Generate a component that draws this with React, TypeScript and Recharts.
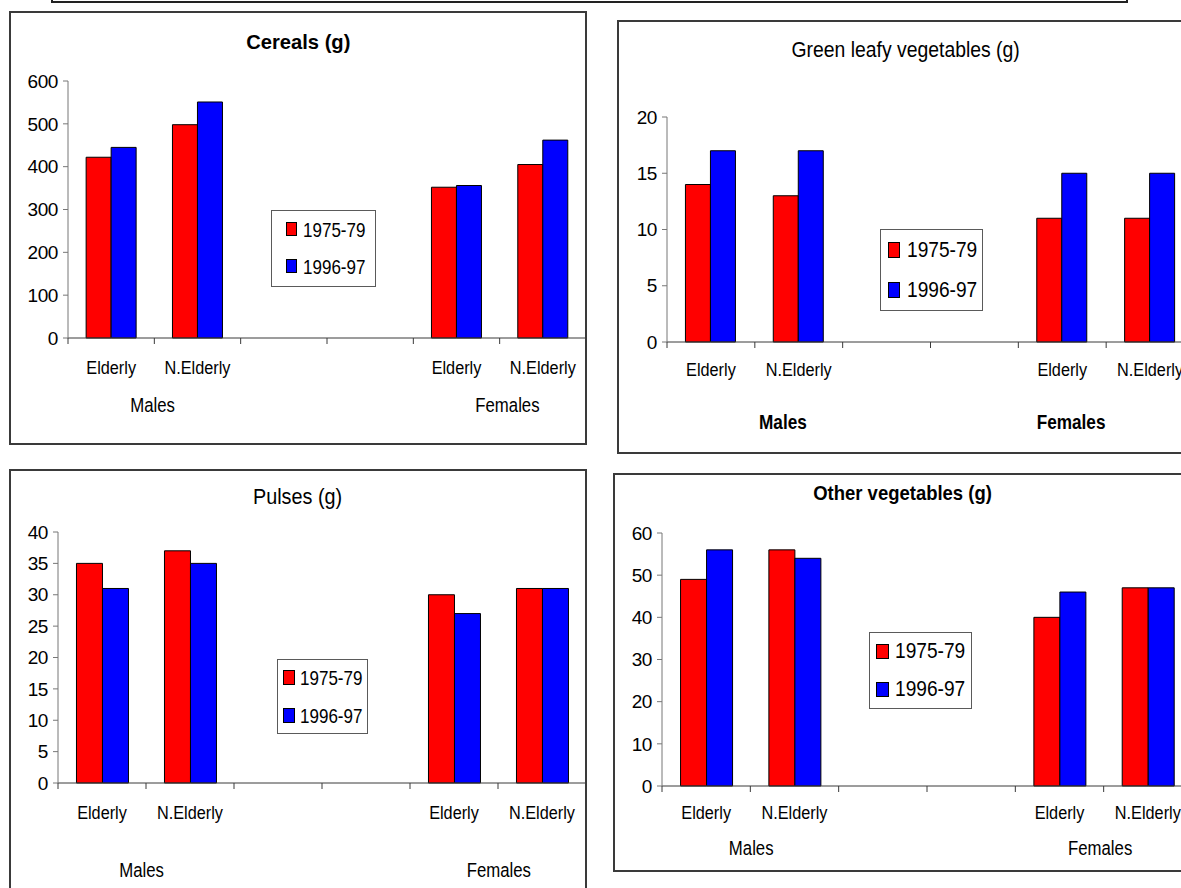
import { Bar, BarChart, Legend, XAxis, YAxis } from "recharts";

const FONT = '"Liberation Sans", Arial, Helvetica, sans-serif';
const RED = "#FF0000";
const BLUE = "#0000FF";
const LINE = "#3a3a3a";

// shared categories (two empty slots between the groups)
const categories = ["Elderly", "N.Elderly", "", "", "Elderly", "N.Elderly"];
const groups = ["Males", "", "", "", "Females", ""];
const seriesNames = ["1975-79", "1996-97"];

const cereals1975 = [422, 498, null, null, 352, 405];
const cereals1996 = [445, 551, null, null, 356, 462];
const cerealTicks = [0, 100, 200, 300, 400, 500, 600];

const leafy1975 = [14, 13, null, null, 11, 11];
const leafy1996 = [17, 17, null, null, 15, 15];
const leafyTicks = [0, 5, 10, 15, 20];

const pulses1975 = [35, 37, null, null, 30, 31];
const pulses1996 = [31, 35, null, null, 27, 31];
const pulseTicks = [0, 5, 10, 15, 20, 25, 30, 35, 40];

const otherVeg1975 = [49, 56, null, null, 40, 47];
const otherVeg1996 = [56, 54, null, null, 46, 47];
const otherVegTicks = [0, 10, 20, 30, 40, 50, 60];

type LegendBox = {
  x: number; y: number; w: number; h: number;
  sqX: number; sqW: number; sqH: number; textX: number;
  rows: number[]; fontSize: number; squeeze: number;
};

type Panel = {
  title: string;
  titleBold: boolean;
  titleSize: number;
  titleSqueeze: number;
  titleY: number;
  left: number; top: number; width: number; height: number;
  margin: { top: number; right: number; bottom: number; left: number };
  yWidth: number;
  xHeight: number;
  ticks: number[];
  a: (number | null)[];
  b: (number | null)[];
  labelDy: number;
  groupDy: number;
  groupBold: boolean;
  groupShift: number[];
  legend: LegendBox;
};

const panels: Panel[] = [
  {
    title: "Cereals (g)", titleBold: true, titleSize: 21, titleSqueeze: 0.96, titleY: 31,
    left: 9, top: 11, width: 578, height: 434,
    margin: { top: 70, right: 1, bottom: 7, left: 9 }, yWidth: 50, xHeight: 100,
    ticks: cerealTicks, a: cereals1975, b: cereals1996,
    labelDy: 30, groupDy: 68, groupBold: false, groupShift: [0.48, 0.59],
    legend: { x: 262, y: 199, w: 105, h: 77, sqX: 15, sqW: 11, sqH: 14, textX: 32, rows: [18, 55], fontSize: 21, squeeze: 0.81 },
  },
  {
    title: "Green leafy vegetables (g)", titleBold: false, titleSize: 22, titleSqueeze: 0.88, titleY: 30,
    left: 617, top: 20, width: 578, height: 434,
    margin: { top: 97, right: 1, bottom: 7, left: 0 }, yWidth: 50, xHeight: 105,
    ticks: leafyTicks, a: leafy1975, b: leafy1996,
    labelDy: 28, groupDy: 80, groupBold: true, groupShift: [0.82, 0.1],
    legend: { x: 263, y: 209, w: 103, h: 82, sqX: 8, sqW: 12, sqH: 16, textX: 27, rows: [20, 60], fontSize: 22.5, squeeze: 0.85 },
  },
  {
    title: "Pulses (g)", titleBold: false, titleSize: 22, titleSqueeze: 0.9, titleY: 28,
    left: 9, top: 469, width: 578, height: 440,
    margin: { top: 63, right: 1, bottom: 8, left: 0 }, yWidth: 49, xHeight: 118,
    ticks: pulseTicks, a: pulses1975, b: pulses1996,
    labelDy: 30, groupDy: 88, groupBold: false, groupShift: [0.45, 0.51],
    legend: { x: 268, y: 190, w: 91, h: 75, sqX: 6, sqW: 12, sqH: 15, textX: 23, rows: [17.7, 55.7], fontSize: 21, squeeze: 0.81 },
  },
  {
    title: "Other vegetables (g)", titleBold: true, titleSize: 21, titleSqueeze: 0.88, titleY: 20,
    left: 613, top: 473, width: 580, height: 399,
    margin: { top: 60, right: 1, bottom: 6, left: 0 }, yWidth: 49, xHeight: 80,
    ticks: otherVegTicks, a: otherVeg1975, b: otherVeg1996,
    labelDy: 27, groupDy: 63, groupBold: false, groupShift: [0.51, 0.46],
    legend: { x: 256, y: 159, w: 103, h: 77, sqX: 7, sqW: 13, sqH: 15, textX: 26, rows: [18.7, 56.3], fontSize: 22.5, squeeze: 0.85 },
  },
];

// condensed text, like the narrow rendering of the original sheet
function Squeezed({ x, y, s, children, ...rest }: any) {
  return (
    <text
      transform={`translate(${x} ${y}) scale(${s} 1)`}
      x={0}
      y={0}
      textAnchor="middle"
      dominantBaseline="central"
      fontFamily={FONT}
      fill="#000"
      {...rest}
    >
      {children}
    </text>
  );
}

function CategoryTick(props: any) {
  const { x, y, payload, panel, band } = props;
  const i = props.index ?? payload.index ?? 0;
  const half = payload.offset ?? band / 2;
  const p: Panel = panel;
  return (
    <g>
      <line x1={x - half} x2={x - half} y1={y} y2={y + 6} stroke={LINE} />
      {i === categories.length - 1 && (
        <line x1={x + half} x2={x + half} y1={y} y2={y + 6} stroke={LINE} />
      )}
      <Squeezed x={x} y={y + p.labelDy} s={0.88} fontSize={18.5}>
        {categories[i]}
      </Squeezed>
      {groups[i] && (
        <Squeezed
          x={x + p.groupShift[i === 0 ? 0 : 1] * half * 2}
          y={y + p.groupDy}
          s={p.groupBold ? 0.86 : 0.86}
          fontSize={p.groupBold ? 20 : 19.5}
          fontWeight={p.groupBold ? "bold" : "normal"}
        >
          {groups[i]}
        </Squeezed>
      )}
    </g>
  );
}

function LegendBoxView({ payload, lg }: any) {
  return (
    <div
      style={{
        position: "relative",
        width: lg.w,
        height: lg.h,
        boxSizing: "border-box",
        border: "1.5px solid #5a5a5a",
        background: "#fff",
        fontFamily: FONT,
        color: "#000",
      }}
    >
      {(payload || []).map((p: any, i: number) => (
        <div
          key={i}
          style={{
            position: "absolute",
            left: 0,
            top: lg.rows[i] - 15,
            height: 30,
            display: "flex",
            alignItems: "center",
          }}
        >
          <span
            style={{
              marginLeft: lg.sqX - 1.5,
              width: lg.sqW,
              height: lg.sqH,
              background: p.color,
              border: "1.5px solid #000",
              boxSizing: "border-box",
              flex: "none",
            }}
          />
          <span
            style={{
              marginLeft: lg.textX - lg.sqX - lg.sqW + 0.5,
              fontSize: lg.fontSize,
              lineHeight: 1,
              whiteSpace: "nowrap",
              display: "inline-block",
              transform: `scaleX(${lg.squeeze})`,
              transformOrigin: "left center",
            }}
          >
            {p.value}
          </span>
        </div>
      ))}
    </div>
  );
}

function PanelChart({ panel }: { panel: Panel }) {
  const data = categories.map((cat, i) => ({ cat, a: panel.a[i], b: panel.b[i] }));
  const plotWidth = panel.width - panel.margin.left - panel.margin.right - panel.yWidth;
  const band = plotWidth / categories.length;
  const max = panel.ticks[panel.ticks.length - 1];
  const lg = panel.legend;
  return (
    <div
      style={{
        position: "absolute",
        left: panel.left,
        top: panel.top,
        width: panel.width,
        height: panel.height,
        background: "#fff",
      }}
    >
      <BarChart
        width={panel.width}
        height={panel.height}
        data={data}
        margin={panel.margin}
        barGap={0}
        barCategoryGap="21%"
        style={{ position: "absolute", left: 0, top: 0 }}
      >
        <XAxis
          dataKey="cat"
          height={panel.xHeight}
          interval={0}
          tickLine={false}
          tickSize={0}
          tickMargin={0}
          axisLine={{ stroke: LINE }}
          tick={<CategoryTick panel={panel} band={band} />}
        />
        <YAxis
          width={panel.yWidth}
          domain={[0, max]}
          ticks={panel.ticks}
          interval={0}
          tickSize={5}
          tickMargin={5}
          axisLine={{ stroke: "#777" }}
          tickLine={{ stroke: "#777" }}
          tick={{ fontSize: 19, fill: "#000", fontFamily: FONT, letterSpacing: -0.4 }}
        />
        <Bar dataKey="a" name={seriesNames[0]} fill={RED} stroke="#000" strokeWidth={1} isAnimationActive={false} />
        <Bar dataKey="b" name={seriesNames[1]} fill={BLUE} stroke="#000" strokeWidth={1} isAnimationActive={false} />
        <Legend
          layout="vertical"
          align="center"
          verticalAlign="middle"
          wrapperStyle={{ left: lg.x, top: lg.y, width: lg.w, height: lg.h }}
          content={(props: any) => <LegendBoxView payload={props.payload} lg={lg} />}
        />
      </BarChart>
      <div
        style={{
          position: "absolute",
          left: 0,
          width: panel.width,
          top: panel.titleY,
          transform: "translateY(-50%)",
          textAlign: "center",
          fontFamily: FONT,
          fontSize: panel.titleSize,
          fontWeight: panel.titleBold ? "bold" : "normal",
          lineHeight: 1.2,
          color: "#000",
          whiteSpace: "nowrap",
        }}
      >
        <span style={{ display: "inline-block", transform: `scaleX(${panel.titleSqueeze})` }}>
          {panel.title}
        </span>
      </div>
      <div
        style={{
          position: "absolute",
          inset: 0,
          border: `2px solid ${LINE}`,
          boxSizing: "border-box",
          pointerEvents: "none",
        }}
      />
    </div>
  );
}

export default function App() {
  return (
    <div
      style={{
        position: "absolute",
        left: 0,
        top: 0,
        width: 1181,
        height: 888,
        overflow: "hidden",
        background: "#fff",
        fontFamily: FONT,
      }}
    >
      <div
        style={{
          position: "absolute",
          left: 51,
          top: -10,
          width: 1077,
          height: 13,
          border: "2.5px solid #222",
          boxSizing: "border-box",
        }}
      />
      {panels.map((p, i) => (
        <PanelChart key={i} panel={p} />
      ))}
    </div>
  );
}
